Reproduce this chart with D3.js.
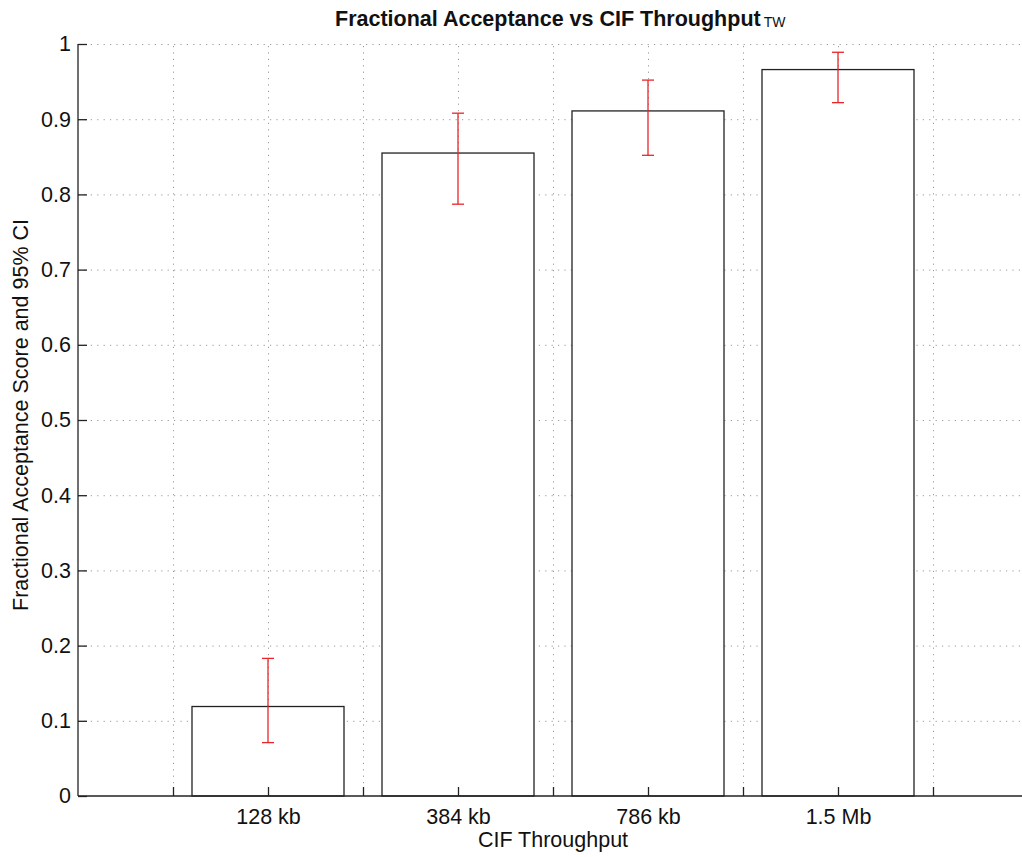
<!DOCTYPE html>
<html>
<head>
<meta charset="utf-8">
<script src="https://cdn.jsdelivr.net/npm/d3@7"></script>
<style>
  html, body { margin: 0; padding: 0; background: #fff; }
  svg { display: block; }
  text { font-family: "Liberation Sans", Arial, Helvetica, sans-serif; fill: #111; }
</style>
</head>
<body>
<svg id="chart" width="1022" height="857"></svg>
<script>
// Throughput levels and their fractional acceptance scores with 95% CI bounds
const categories = ["128 kb", "384 kb", "786 kb", "1.5 Mb"];
const scores     = [0.119, 0.855, 0.911, 0.966];
const ciLower    = [0.071, 0.787, 0.852, 0.922];
const ciUpper    = [0.183, 0.908, 0.952, 0.989];
const yTicks     = [0, 0.1, 0.2, 0.3, 0.4, 0.5, 0.6, 0.7, 0.8, 0.9, 1];
const xTicks     = [0.5, 1, 1.5, 2, 2.5, 3, 3.5, 4, 4.5, 5];

const svg = d3.select("#chart");
const plotLeft = 78, plotRight = 1028, plotTop = 44, plotBottom = 796;
const labelSize = 21.5;

const x = d3.scaleLinear().domain([0, 5]).range([plotLeft, plotRight]);
const y = d3.scaleLinear().domain([0, 1]).range([plotBottom, plotTop]);
const barWidth = 0.8;

// dotted grid
const grid = svg.append("g").attr("stroke", "#9a9a9a").attr("stroke-width", 1)
  .attr("stroke-dasharray", "1.2,5.2").attr("fill", "none");
grid.selectAll("line.h").data(yTicks.filter(d => d > 0)).join("line")
  .attr("x1", plotLeft).attr("x2", plotRight)
  .attr("y1", d => y(d) + 0.5).attr("y2", d => y(d) + 0.5);
grid.selectAll("line.v").data(xTicks).join("line")
  .attr("x1", d => Math.round(x(d)) + 0.5).attr("x2", d => Math.round(x(d)) + 0.5)
  .attr("y1", plotBottom).attr("y2", plotTop);

// bars
svg.append("g").selectAll("rect").data(scores).join("rect")
  .attr("x", (d, i) => x(i + 1 - barWidth / 2))
  .attr("width", x(barWidth) - x(0))
  .attr("y", d => y(d))
  .attr("height", d => y(0) - y(d))
  .attr("fill", "#fff").attr("stroke", "#222").attr("stroke-width", 1.3);

// error bars
const capHalf = 6;
const eb = svg.append("g").attr("stroke", "#e8262a").attr("stroke-width", 1.3);
categories.forEach((c, i) => {
  const cx = x(i + 1);
  eb.append("line").attr("x1", cx).attr("x2", cx).attr("y1", y(ciLower[i])).attr("y2", y(ciUpper[i]));
  eb.append("line").attr("x1", cx - capHalf).attr("x2", cx + capHalf).attr("y1", y(ciLower[i])).attr("y2", y(ciLower[i]));
  eb.append("line").attr("x1", cx - capHalf).attr("x2", cx + capHalf).attr("y1", y(ciUpper[i])).attr("y2", y(ciUpper[i]));
});

// y axis (ticks pointing inward)
const yAxis = d3.axisLeft(y).tickValues(yTicks).tickSize(-9).tickPadding(7)
  .tickFormat(d => String(+d.toFixed(1)));
const gy = svg.append("g").attr("transform", `translate(${plotLeft},0)`).call(yAxis);
gy.select(".domain").attr("stroke", "#222").attr("stroke-width", 1.3).attr("d", `M0,${plotBottom}V${plotTop}`);
gy.selectAll(".tick line").attr("stroke", "#222").attr("stroke-width", 1.3);
gy.selectAll(".tick text").attr("font-size", labelSize).attr("fill", "#111")
  .attr("font-family", "Liberation Sans, Arial, sans-serif");

// x axis (ticks pointing inward, labels on whole categories)
const xAxis = d3.axisBottom(x).tickValues(xTicks).tickSize(-9).tickPadding(13)
  .tickFormat(d => Number.isInteger(d) && d >= 1 && d <= categories.length ? categories[d - 1] : "");
const gx = svg.append("g").attr("transform", `translate(0,${plotBottom})`).call(xAxis);
gx.select(".domain").attr("stroke", "#222").attr("stroke-width", 1.3).attr("d", `M${plotLeft},0H${plotRight}`);
gx.selectAll(".tick line").attr("stroke", "#222").attr("stroke-width", 1.3);
gx.selectAll(".tick text").attr("font-size", labelSize).attr("fill", "#111")
  .attr("font-family", "Liberation Sans, Arial, sans-serif");

// axis titles
svg.append("text").attr("x", (plotLeft + plotRight) / 2).attr("y", 847)
  .attr("text-anchor", "middle").attr("font-size", labelSize).text("CIF Throughput");
svg.append("text").attr("transform", `translate(28,${(plotTop + plotBottom) / 2 - 5}) rotate(-90)`)
  .attr("text-anchor", "middle").attr("font-size", labelSize).text("Fractional Acceptance Score and 95% CI");

// chart title with subscript tag
const title = svg.append("text").attr("y", 26).attr("font-size", 21.5).attr("font-weight", "bold")
  .attr("font-family", "Liberation Sans Narrow, Arial Narrow, Liberation Sans, sans-serif")
  .text("Fractional Acceptance vs CIF Throughput");
const sub = svg.append("text").attr("y", 27).attr("font-size", 14)
  .attr("font-family", "Liberation Sans Narrow, Arial Narrow, Liberation Sans, sans-serif")
  .text("TW");
const tw = title.node().getComputedTextLength();
const sw = sub.node().getComputedTextLength();
const startX = 335;
title.attr("x", startX);
sub.attr("x", startX + tw + 3);
</script>
</body>
</html>
